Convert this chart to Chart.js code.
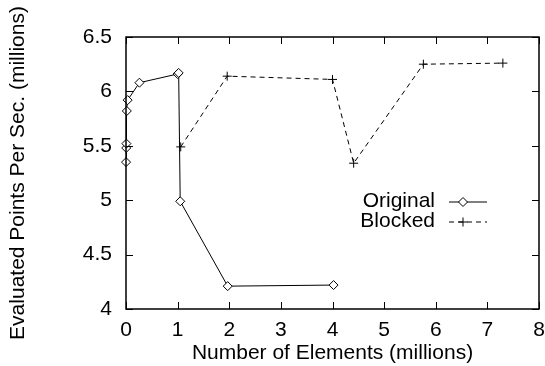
<!DOCTYPE html>
<html>
<head>
<meta charset="utf-8">
<script src="https://cdn.jsdelivr.net/npm/chart.js@4/dist/chart.umd.min.js"></script>
<style>
html, body { margin: 0; padding: 0; background: #fff; }
#wrap { width: 545px; height: 366px; }
</style>
</head>
<body>
<div id="wrap"><canvas id="chart"></canvas></div>
<script>
// data
let originalX = [0.001, 0.004, 0.008, 0.016, 0.032, 0.26, 1.0, 1.02, 1.05, 1.97, 4.02];
let originalY = [5.35, 5.48, 5.52, 5.82, 5.92, 6.08, 6.16, 6.17, 4.99, 4.21, 4.22];
let blockedX = [1.06, 1.96, 4.0, 4.41, 5.76, 7.30];
let blockedY = [5.49, 6.14, 6.11, 5.34, 6.25, 6.26];
let seriesNames = ["Original", "Blocked"];
let xTitle = "Number of Elements (millions)";
let yTitle = "Evaluated Points Per Sec. (millions)";

let fontFamily = "'Liberation Sans', Arial, sans-serif";
let fontSize = 21;

function toPoints(xs, ys) {
    return xs.map((x, i) => ({ x: x, y: ys[i] }));
}

// box round the plot with inward ticks on all four sides
let framePlugin = {
    id: "frame",
    afterDatasetsDraw(chart) {
        let ctx = chart.ctx;
        let a = chart.chartArea;
        let xs = chart.scales.x;
        let ys = chart.scales.y;
        let len = 7;
        ctx.save();
        ctx.strokeStyle = "#000";
        ctx.lineWidth = 1;
        ctx.beginPath();
        xs.ticks.forEach(t => {
            let px = Math.round(xs.getPixelForValue(t.value)) + 0.5;
            ctx.moveTo(px, a.bottom); ctx.lineTo(px, a.bottom - len);
            ctx.moveTo(px, a.top); ctx.lineTo(px, a.top + len);
        });
        ys.ticks.forEach(t => {
            let py = Math.round(ys.getPixelForValue(t.value)) + 0.5;
            ctx.moveTo(a.left, py); ctx.lineTo(a.left + len, py);
            ctx.moveTo(a.right, py); ctx.lineTo(a.right - len, py);
        });
        ctx.stroke();
        ctx.lineWidth = 1.5;
        ctx.strokeRect(a.left, a.top, a.right - a.left, a.bottom - a.top);
        ctx.restore();
    }
};

// gnuplot style key inside the plot
let keyPlugin = {
    id: "key",
    afterDraw(chart) {
        let ctx = chart.ctx;
        let textRight = 435;
        let lineLeft = 449;
        let lineRight = 487;
        let rows = [201.5, 221.5];
        ctx.save();
        ctx.font = fontSize + "px " + fontFamily;
        ctx.textAlign = "right";
        ctx.textBaseline = "middle";
        chart.data.datasets.forEach((ds, i) => {
            let y = rows[i];
            ctx.fillStyle = "#000";
            ctx.fillText(ds.label, textRight, y);
            ctx.beginPath();
            ctx.setLineDash(ds.borderDash || []);
            ctx.lineWidth = ds.borderWidth;
            ctx.strokeStyle = ds.borderColor;
            ctx.moveTo(lineLeft, y + 0.5);
            ctx.lineTo(lineRight, y + 0.5);
            ctx.stroke();
            ctx.setLineDash([]);
            ctx.fillStyle = ds.pointBackgroundColor;
            ctx.strokeStyle = ds.pointBorderColor;
            ctx.lineWidth = ds.pointBorderWidth;
            Chart.helpers.drawPoint(ctx, {
                pointStyle: ds.pointStyle,
                radius: ds.pointRadius,
                borderWidth: ds.pointBorderWidth,
                rotation: 0
            }, (lineLeft + lineRight) / 2 - 5, y + 0.5);
        });
        ctx.restore();
    }
};

let ctx = document.getElementById("chart").getContext("2d");
let chart = new Chart(ctx, {
    type: "line",
    data: {
        datasets: [{
            label: seriesNames[0],
            data: toPoints(originalX, originalY),
            borderColor: "#000",
            borderWidth: 1,
            pointStyle: "rectRot",
            pointRadius: 4.5,
            pointBorderWidth: 1,
            pointBackgroundColor: "#fff",
            pointBorderColor: "#000",
            tension: 0,
            clip: false
        }, {
            label: seriesNames[1],
            data: toPoints(blockedX, blockedY),
            borderColor: "#000",
            borderWidth: 1,
            borderDash: [5, 4],
            pointStyle: "cross",
            pointRadius: 4.5,
            pointBorderWidth: 1,
            pointBackgroundColor: "#000",
            pointBorderColor: "#000",
            tension: 0,
            clip: false
        }]
    },
    options: {
        responsive: true,
        maintainAspectRatio: false,
        devicePixelRatio: 1,
        animation: false,
        layout: {
            padding: { left: 0, right: 6, top: 37, bottom: 0 }
        },
        plugins: {
            legend: { display: false },
            tooltip: { enabled: false }
        },
        scales: {
            x: {
                type: "linear",
                min: 0,
                max: 8,
                grid: { display: false, drawTicks: false },
                border: { display: false },
                ticks: {
                    stepSize: 1,
                    padding: 9,
                    color: "#000",
                    font: { family: fontFamily, size: fontSize },
                    maxRotation: 0
                },
                title: {
                    display: true,
                    text: xTitle,
                    color: "#000",
                    font: { family: fontFamily, size: fontSize },
                    padding: { top: 0, bottom: 0 }
                },
                afterFit(scale) {
                    scale.height = 57;
                    scale.paddingLeft = 0;
                    scale.paddingRight = 0;
                }
            },
            y: {
                type: "linear",
                min: 4,
                max: 6.5,
                grid: { display: false, drawTicks: false },
                border: { display: false },
                ticks: {
                    stepSize: 0.5,
                    padding: 14,
                    color: "#000",
                    font: { family: fontFamily, size: fontSize },
                    callback: value => String(value)
                },
                title: {
                    display: true,
                    text: yTitle,
                    color: "#000",
                    font: { family: fontFamily, size: fontSize },
                    padding: { top: 6, bottom: 0 }
                },
                afterFit(scale) {
                    scale.width = 126;
                    scale.paddingTop = 0;
                    scale.paddingBottom = 0;
                }
            }
        }
    },
    plugins: [framePlugin, keyPlugin]
});
</script>
</body>
</html>
